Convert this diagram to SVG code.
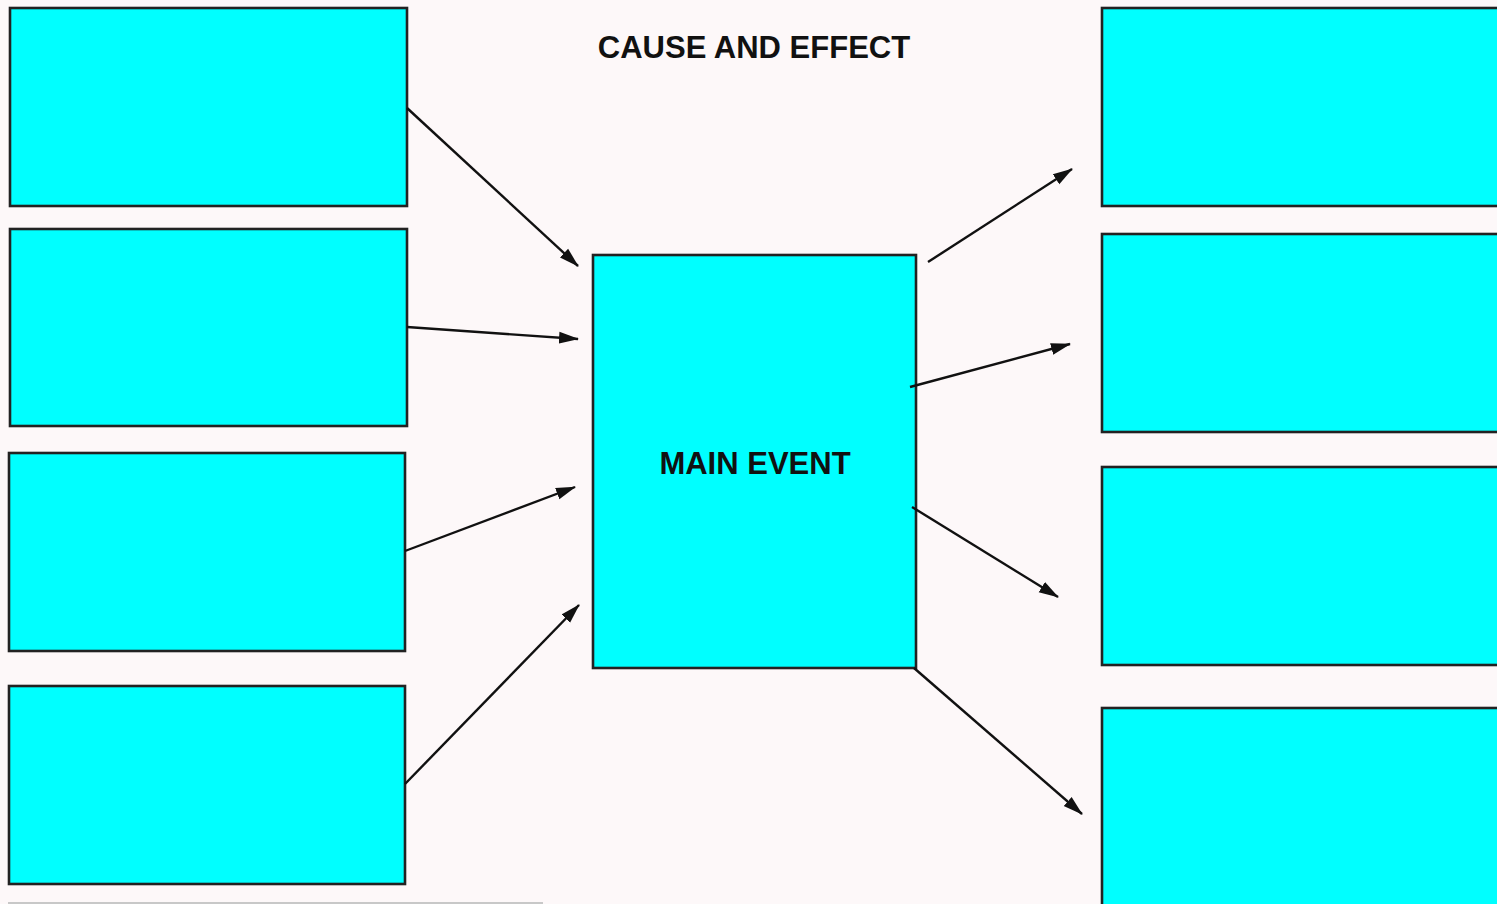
<svg xmlns="http://www.w3.org/2000/svg" width="1497" height="904" viewBox="0 0 1497 904">
<defs>
<style>
.box{fill:#00ffff;stroke:#222;stroke-width:2.6}
.lbl{font-family:"Liberation Sans",Arial,sans-serif;font-weight:bold;font-size:31px;fill:#111;text-anchor:middle}
.con{stroke:#111;stroke-width:2.4;fill:none;marker-end:url(#ah)}
</style>
<marker id="ah" markerUnits="userSpaceOnUse" markerWidth="20" markerHeight="14" refX="19" refY="7" orient="auto">
<path d="M0,1 L20,7 L0,13 Z" fill="#111"/>
</marker>
</defs>
<rect width="1497" height="904" fill="#fdf8f9"/>
<text class="lbl" x="754" y="58">CAUSE AND EFFECT</text>
<g id="cause1"><rect class="box" x="10" y="8" width="397" height="198"/></g>
<g id="cause2"><rect class="box" x="10" y="229" width="397" height="197"/></g>
<g id="cause3"><rect class="box" x="9" y="453" width="396" height="198"/></g>
<g id="cause4"><rect class="box" x="9" y="686" width="396" height="198"/></g>
<g id="main"><rect class="box" x="593" y="255" width="323" height="413"/><text class="lbl" x="755" y="474">MAIN EVENT</text></g>
<g id="effect1"><rect class="box" x="1102" y="8" width="400" height="198"/></g>
<g id="effect2"><rect class="box" x="1102" y="234" width="400" height="198"/></g>
<g id="effect3"><rect class="box" x="1102" y="467" width="400" height="198"/></g>
<g id="effect4"><rect class="box" x="1102" y="708" width="400" height="210"/></g>
<g id="connectors">
<line class="con" x1="407" y1="108" x2="578" y2="266"/>
<line class="con" x1="407" y1="327" x2="578" y2="339"/>
<line class="con" x1="405" y1="551" x2="575" y2="487"/>
<line class="con" x1="405" y1="784" x2="579" y2="605"/>
<line class="con" x1="928" y1="262" x2="1072" y2="169"/>
<line class="con" x1="910" y1="387" x2="1070" y2="344"/>
<line class="con" x1="912" y1="507" x2="1058" y2="597"/>
<line class="con" x1="914" y1="668" x2="1082" y2="814"/>
</g>
<line x1="8" y1="903" x2="543" y2="903" stroke="#c8c8c8" stroke-width="2"/>
</svg>
